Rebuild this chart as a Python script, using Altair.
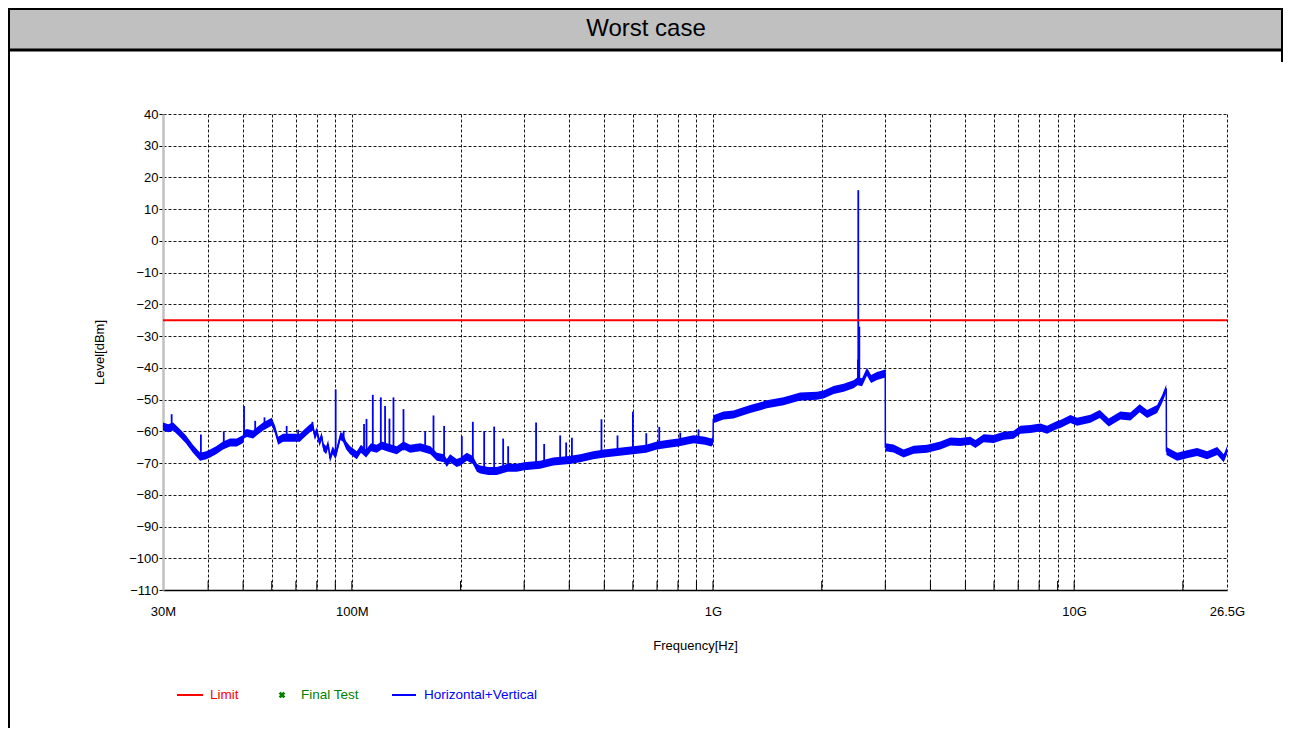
import altair as alt
import pandas as pd

# ---------------- data ----------------
trace_mhz = [30, 31, 32, 33.4, 34.7, 36.3, 38.0, 39.5, 40.5, 42.1, 44.0, 46.0, 48.0, 49.9, 50.3,
             51.2, 53.3, 54.6, 56.8, 57.8, 60.0, 61.3, 62.5, 64.5, 66.6, 68.8, 71.8, 73.3, 76.6,
             78, 79, 80.0, 81.4, 82.5, 83.4, 84.9, 86, 87.0, 88.5, 90.2, 91.6, 93, 94.5, 96.5,
             98.9, 103.2, 106, 109.5, 113, 117.2, 121, 125,
             133.2, 139, 145, 154.6, 165, 171.9, 180, 183.2, 187.1, 195.1, 200, 208.2, 216.3, 221.9,
             226.6, 238.9, 252.1, 270, 286.4, 300, 332.2, 360.9, 400, 428.8, 465.9, 500, 544,
             600, 653, 700, 745.6, 800, 883.2, 950, 990, 1000, 1002, 1069.6, 1140, 1190, 1268,
             1410, 1568, 1744, 1940, 2024, 2158, 2300, 2451, 2514, 2586, 2669, 2740, 2845, 2999,
             3001, 3162, 3371, 3594, 3914, 4261, 4542, 4842, 5161, 5328, 5616, 5986, 6379, 6800,
             7099, 7563, 8063, 8415, 8971, 9162, 9766, 10188, 11094, 11773, 12467, 13431, 14313,
             15187, 15925, 16975, 17526, 17990, 18010, 19280, 20545, 21900, 23350, 24890, 25960,
             26500]
trace_dbm = [-58.5, -59, -58.5, -60.5, -62.5, -65.5, -68, -67.5, -67, -66, -64.5, -63.5, -63.5, -62.5, -61,
             -60.5, -61, -60, -58.5, -58, -57, -59.5, -63, -62, -62, -62, -62, -61, -59,
             -58.5, -61.5, -60, -63.5, -61.5, -65, -66, -64, -68.5, -66, -67.5, -64.5, -61.5, -62, -64.5,
             -66, -67.5, -65.5, -67, -65, -65.5, -64.5, -65,
             -66, -64.5, -65.5, -65, -66, -68, -68.5, -70, -68.5, -70, -69.5, -68, -69, -71.5,
             -72, -72.5, -72.5, -71.5, -71.5, -71, -70.5, -69.5, -69, -68.5, -67.5, -67, -66.5,
             -66, -65.5, -64.5, -64, -63.5, -62.5, -63, -63.5, -63, -56.2, -55, -54.7, -54, -53,
             -51.5, -50.5, -49, -48.8, -48.4, -47, -46.3, -45.2, -44.2, -44.5, -41.2, -43.5, -42.6, -41.8,
             -65, -65.4, -67, -65.8, -65.5, -64.5, -63.2, -63.4, -63, -64, -62.2, -62.4, -61.4, -61.1,
             -59.5, -59.3, -58.8, -59.5, -58, -57.7, -56.1, -57, -56, -54.5, -57.2, -55, -55.3,
             -52.7, -54.5, -53, -49.8, -46.5, -66.2, -68, -67.2, -66.5, -67.5, -66.2, -68.5,
             -66]

spike_mhz = [31.7, 38.2, 44.2, 50.3, 54.0, 57.3, 66.0, 71.0, 77.8, 90.2, 94.9, 108.1, 109.8, 114.3,
             120.3, 123.6, 127.1, 130.4, 139.0, 159.6, 168.3, 180.1, 201.6, 216.3, 232.5, 247.8,
             262.4, 270.9, 323.7, 340.8, 377.4, 392.1, 406.8, 491.1, 544, 600.1, 653.5, 709.9,
             811.6, 911.8, 2520, 2525, 2542]
spike_peak = [-54.6, -61, -60, -52, -56.7, -55.6, -58.3, -59.5, -57, -46.8, -59.8, -57.7, -56.1, -48.5,
              -49.3, -52, -56, -49.3, -53, -60, -55, -58.3, -61.5, -57, -60, -58.5,
              -62.3, -64.7, -57.2, -64, -61.3, -63.5, -62, -56.2, -61.3, -53.8, -60.6, -58.6,
              -60.4, -59.4, -37.4, 16, -27]
spike_base = [-59, -68, -64.5, -62, -60.5, -58.5, -62, -62, -59.5, -66, -63, -67, -67, -66,
              -65.5, -65, -65, -65.5, -66, -65.5, -67, -68.5, -69.5, -69, -72, -72.5,
              -72, -71.5, -71, -70.5, -69.5, -69.5, -69, -67.2, -66.5, -66, -65.5, -64.5,
              -63.5, -62.8, -44, -44, -44]

limit_dbm = [-25]

grid_mhz = [40, 50, 60, 70, 80, 90, 100, 200, 300, 400, 500, 600, 700, 800, 900,
            1000, 2000, 3000, 4000, 5000, 6000, 7000, 8000, 9000, 10000, 20000]
label_mhz = [30, 100, 1000, 10000, 26500]
label_text = ["30M", "100M", "1G", "10G", "26.5G"]
y_ticks = [-110, -100, -90, -80, -70, -60, -50, -40, -30, -20, -10, 0, 10, 20, 30, 40]

title_text = "Worst case"
x_title = "Frequency[Hz]"
y_title = "Level[dBm]"
legend_labels = ["Limit", "Final Test", "Horizontal+Vertical"]
legend_colors = ["#ff0000", "#008000", "#0000ff"]

# ---------------- chart ----------------
W, H = 1064, 476
FONT = "Liberation Sans"
BLUE = legend_colors[2]
RED = legend_colors[0]
GREEN = legend_colors[1]

trace_df = pd.DataFrame({"f": trace_mhz, "lvl": trace_dbm})
spike_df = pd.DataFrame({"f": spike_mhz, "lvl": spike_peak, "base": spike_base})
limit_df = pd.DataFrame({"lvl": limit_dbm})
grid_df = pd.DataFrame({"f": grid_mhz})
one = pd.DataFrame({"k": [0]})

xscale = alt.Scale(type="log", domain=[30, 26500], nice=False)
yscale = alt.Scale(domain=[-110, 40], nice=False, zero=False)

expr = "''"
for v, t in reversed(list(zip(label_mhz, label_text))):
    expr = f"abs(datum.value - {v}) < 0.5 ? '{t}' : ({expr})"

x_axis = alt.Axis(
    values=sorted(label_mhz + grid_mhz), labelExpr=expr, title=x_title,
    grid=True, gridColor="#000000", gridDash=[3, 2], gridWidth=1, gridOpacity=0.9,
    domainColor="#000000", domainWidth=1.5, tickSize=0, labelPadding=15,
    labelFlush=False, labelOverlap=False, labelFont=FONT, labelFontSize=13,
    labelColor="#000000", titleFont=FONT, titleFontSize=13, titleFontWeight="normal",
    titleColor="#000000", titlePadding=21,
)
y_axis = alt.Axis(
    values=y_ticks, title=y_title, grid=True, gridColor="#000000", gridDash=[3, 2],
    gridWidth=1, gridOpacity=0.9, domainColor="#c0c0c0", domainWidth=2.5,
    tickColor="#000000", tickSize=4, labelPadding=1, labelFont=FONT, labelFontSize=13,
    labelColor="#000000", titleFont=FONT, titleFontSize=13, titleFontWeight="normal",
    titleColor="#000000", titlePadding=22,
)

X = alt.X("f:Q", scale=xscale, axis=x_axis)
Y = alt.Y("lvl:Q", scale=yscale, axis=y_axis)

band = alt.Chart(trace_df).mark_area(color=BLUE, yOffset=-4, y2Offset=4).encode(
    x=X, y=Y, y2="lvl:Q",
)
line = alt.Chart(trace_df).mark_line(color=BLUE, strokeWidth=1.5).encode(x=X, y=Y)
spikes = alt.Chart(spike_df).mark_rule(color=BLUE, strokeWidth=1.8).encode(
    x=X, y=Y, y2="base:Q",
)
limit = alt.Chart(limit_df).mark_rule(color=RED, strokeWidth=2).encode(y=Y)
xticks = alt.Chart(grid_df).mark_rule(color="#000000", strokeWidth=1).encode(
    x=X, y=alt.value(H), y2=alt.value(H - 9),
)

# frame and title bar (svg spans page x 8..1283)
R = 1119
bar = alt.Chart(one).mark_rect(fill="#c0c0c0", stroke="#000000", strokeWidth=2).encode(
    x=alt.value(-154), x2=alt.value(R), y=alt.value(-105), y2=alt.value(-64),
)
bar_line = alt.Chart(one).mark_rule(color="#000000", strokeWidth=3).encode(
    x=alt.value(-155), x2=alt.value(R + 1), y=alt.value(-64),
)
left_border = alt.Chart(one).mark_rule(color="#000000", strokeWidth=2).encode(
    x=alt.value(-154), y=alt.value(-64), y2=alt.value(640),
)
right_stub = alt.Chart(one).mark_rule(color="#000000", strokeWidth=2).encode(
    x=alt.value(R), y=alt.value(-64), y2=alt.value(-52),
)
title = alt.Chart(one).mark_text(font=FONT, fontSize=24, color="#000000",
                                 baseline="middle", align="center").encode(
    x=alt.value(483), y=alt.value(-85), text=alt.value(title_text),
)

# legend
LY = 581
leg_limit_line = alt.Chart(one).mark_rule(color=RED, strokeWidth=2).encode(
    x=alt.value(14), x2=alt.value(40), y=alt.value(LY))
leg_limit_text = alt.Chart(one).mark_text(font=FONT, fontSize=13.5, color=RED, align="left",
                                          baseline="middle").encode(
    x=alt.value(47), y=alt.value(LY), text=alt.value(legend_labels[0]))
leg_final_mark = alt.Chart(one).mark_point(shape="cross", angle=45, filled=True, size=45,
                                           color=GREEN, opacity=1).encode(
    x=alt.value(119), y=alt.value(LY))
leg_final_text = alt.Chart(one).mark_text(font=FONT, fontSize=13.5, color=GREEN, align="left",
                                          baseline="middle").encode(
    x=alt.value(138), y=alt.value(LY), text=alt.value(legend_labels[1]))
leg_hv_line = alt.Chart(one).mark_rule(color=BLUE, strokeWidth=2).encode(
    x=alt.value(229), x2=alt.value(253), y=alt.value(LY))
leg_hv_text = alt.Chart(one).mark_text(font=FONT, fontSize=13.5, color=BLUE, align="left",
                                       baseline="middle").encode(
    x=alt.value(261), y=alt.value(LY), text=alt.value(legend_labels[2]))

chart = alt.layer(
    band, line, spikes, limit, xticks,
    bar, bar_line, left_border, right_stub, title,
    leg_limit_line, leg_limit_text, leg_final_mark, leg_final_text, leg_hv_line, leg_hv_text,
).properties(
    width=W, height=H,
    autosize=alt.AutoSizeParams(type="none"),
    padding={"left": 155, "top": 106, "right": 56, "bottom": 138},
    background="#ffffff",
).configure_view(stroke=None)

chart.save("out.html", embed_options={"renderer": "svg", "actions": False})
